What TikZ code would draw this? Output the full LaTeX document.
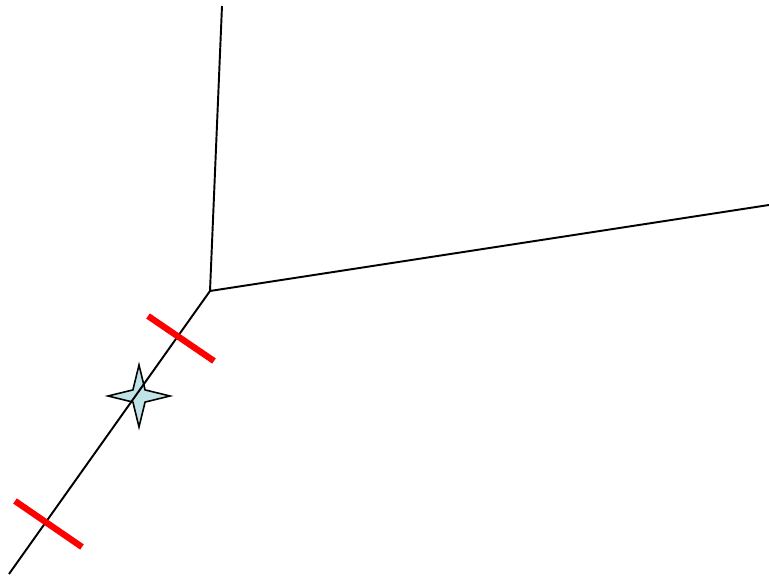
\documentclass[tikz,border=0pt]{standalone}
\usepackage{tikz}
\usetikzlibrary{shapes.geometric}
\definecolor{paleblue}{RGB}{190,228,232}

\begin{document}
\begin{tikzpicture}[x=0.02cm, y=-0.02cm,
    wire/.style={draw=black, line width=1.1pt},
    redbar/.style={draw=red, line width=3.6pt},
    sparkle/.style={star, star points=4, star point ratio=3.6, minimum size=1.24cm, inner sep=0pt, draw=black, line width=0.9pt, fill=paleblue}]
    \useasboundingbox (0,0) rectangle (769,577);

    \coordinate (hub) at (210, 291);
    \coordinate (top) at (222, 6);
    \coordinate (right) at (769, 205);
    \coordinate (low) at (9, 574);

    \node[sparkle] (marker) at (139, 396) {};

    \coordinate (barA1) at (148, 316);
    \coordinate (barA2) at (214, 361);
    \coordinate (barB1) at (15, 501);
    \coordinate (barB2) at (82, 547);

    \draw[wire] (top) -- (hub) -- (right);
    \draw[wire] (hub) -- (low);

    \draw[redbar] (barA1) -- (barA2);
    \draw[redbar] (barB1) -- (barB2);
\end{tikzpicture}
\end{document}
